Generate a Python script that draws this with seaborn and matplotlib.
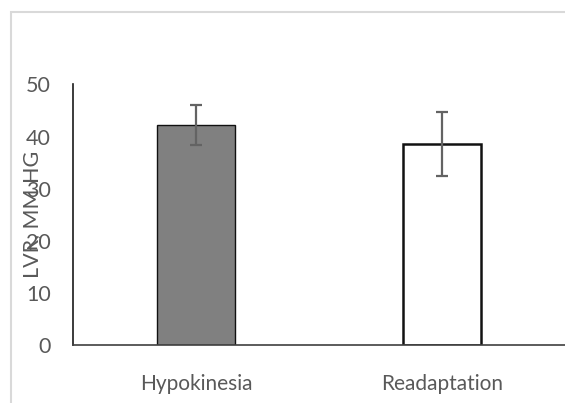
import numpy as np
import pandas as pd
import matplotlib
matplotlib.use("Agg")
import matplotlib.pyplot as plt
from matplotlib.patches import Rectangle
import seaborn as sns

# data
categories = ["Hypokinesia", "Readaptation"]
means = [42.2, 38.6]
errors = [3.9, 6.2]
yticks = [0, 10, 20, 30, 40, 50]

df = pd.DataFrame({"group": categories, "lvr": means})

sns.set_style("white")
plt.rcParams["font.family"] = ["Lato", "DejaVu Sans"]

fig = plt.figure(figsize=(5.65, 4.03), dpi=100)
ax = fig.add_axes([73 / 565, 58 / 403, 492 / 565, 260.5 / 403])

sns.barplot(data=df, x="group", y="lvr", hue="group",
            palette=["#808080", "#ffffff"], width=0.316, legend=False, ax=ax)
edge_widths = [1.0, 1.8]
for patch, lw in zip(ax.patches, edge_widths):
    patch.set_edgecolor("#111111")
    patch.set_linewidth(lw)

ax.errorbar(x=np.arange(len(categories)), y=means, yerr=errors, fmt="none",
            ecolor="#636363", elinewidth=1.6, capsize=4, capthick=1.6)

ax.set_xlim(-0.5, 1.5)
ax.set_ylim(0, 50)
ax.set_yticks(yticks)
ax.tick_params(axis="y", length=0, pad=16, labelsize=15.5, labelcolor="#595959")
ax.tick_params(axis="x", length=0, pad=21, labelsize=15, labelcolor="#595959")
ax.set_xlabel("")
ax.set_ylabel("LVR, MM HG", fontsize=15.5, color="#595959")
ax.yaxis.set_label_coords(-0.062, 0.5)

sns.despine(ax=ax, top=True, right=True)
ax.spines["left"].set_color("#1a1a1a")
ax.spines["left"].set_linewidth(1.2)
ax.spines["bottom"].set_color("#404040")
ax.spines["bottom"].set_linewidth(1.2)

# light frame around the chart area, as in the source
fig.patches.append(Rectangle((10.5 / 565, -0.1), 1.2, 1.1 - 12.5 / 403,
                             transform=fig.transFigure, fill=False,
                             edgecolor="#d9d9d9", linewidth=1.5))

fig.savefig("out.png", dpi=100)
